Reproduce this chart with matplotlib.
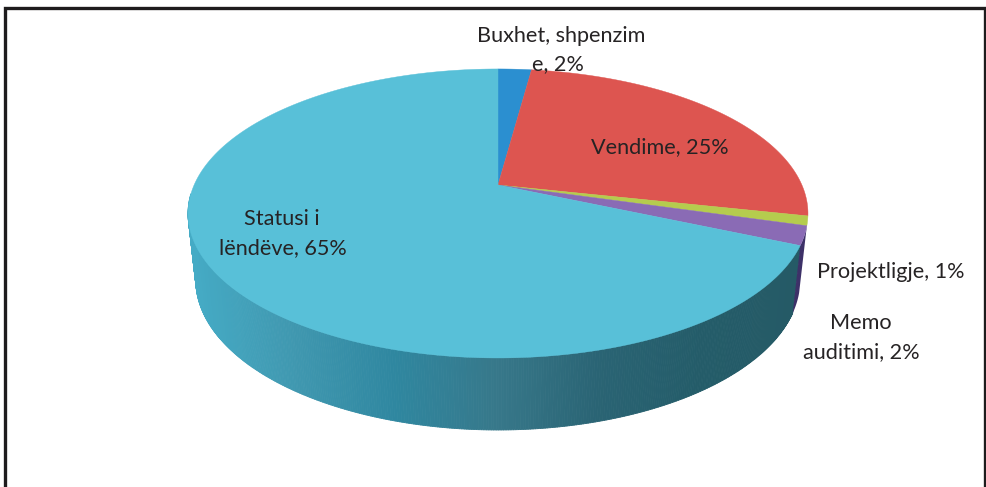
import matplotlib
matplotlib.use('Agg')
import matplotlib.pyplot as plt
import numpy as np
from matplotlib.collections import PolyCollection
from matplotlib.colors import LinearSegmentedColormap

# Slices, clockwise from twelve o'clock.
slice_names = ['Buxhet, shpenzime', 'Vendime', 'Projektligje', 'Memo auditimi', 'Statusi i lëndëve']
slice_values = [2, 25, 1, 2, 65]
slice_colors = ['#2b8fd0', '#dd5550', '#b5cc4e', '#8a6bb5', '#58c0d8']

label_texts = ['Buxhet, shpenzim', 'e, 2%', 'Vendime, 25%', 'Statusi i', 'lëndëve, 65%',
               'Projektligje, 1%', 'Memo', 'auditimi, 2%']
label_x = [561, 558, 660, 282, 283, 891, 861, 861]
label_y = [36, 64, 147, 219, 248, 272, 323, 352]

side_shades = ['#45abc5', '#4098b0', '#2f87a0', '#37788a', '#2a6474', '#245c69', '#255a66']

# Projection of the pie's disc.
centre_x, centre_y = 498, 185
scale_x, scale_y, tilt = 303.9, 138.9, 0.197
depth_centre, depth_scale, depth_shrink = 280, 1.038, 0.975


def rim(fraction):
    angle = 2 * np.pi * np.asarray(fraction)
    u, v = np.sin(angle), np.cos(angle)
    return (centre_x + scale_x * u / (1 + tilt * v),
            centre_y - scale_y * v / (1 + tilt * v))


def lower_rim(fraction):
    x, y = rim(fraction)
    return (centre_x + (x - centre_x) * depth_shrink,
            depth_centre + (y - 213.5) * depth_scale)


figure, axes = plt.subplots(figsize=(9.86, 4.87), dpi=100)
figure.subplots_adjust(0, 0, 1, 1)
axes.set_xlim(0, 986)
axes.set_ylim(487, 0)
axes.axis('off')

edges = np.cumsum([0] + slice_values) / sum(slice_values)

# Side wall, shaded left to right. Only the front part of the rim shows.
shade_map = LinearSegmentedColormap.from_list('side', side_shades)
steps = np.linspace(edges[4], 0.74, 400)
top_x, top_y = rim(steps)
low_x, low_y = lower_rim(steps)
quads, quad_colors = [], []
for i in range(len(steps) - 1):
    quads.append([(top_x[i], top_y[i]), (top_x[i + 1], top_y[i + 1]),
                  (low_x[i + 1], low_y[i + 1]), (low_x[i], low_y[i])])
    quad_colors.append(shade_map((top_x[i] - 188) / 620))
axes.add_collection(PolyCollection(quads, facecolors=quad_colors, edgecolors=quad_colors, linewidths=0.6))

# Thin dark edge of the purple slice's wall.
steps = np.linspace(edges[3], edges[4], 30)
top_x, top_y = rim(steps)
low_x, low_y = lower_rim(steps)
axes.fill(np.r_[top_x, low_x[::-1]], np.r_[top_y, low_y[::-1]], color='#3d3168', lw=0, zorder=1)

# Top faces.
for start, stop, color in zip(edges[:-1], edges[1:], slice_colors):
    x, y = rim(np.linspace(start, stop, 200))
    axes.fill(np.r_[centre_x, x], np.r_[centre_y, y], color=color, lw=0.3, zorder=3)

for text, x, y in zip(label_texts, label_x, label_y):
    axes.text(x, y, text, family='Lato', fontsize=15.6, color='#262324',
              ha='center', va='center', zorder=5)

# Frame cut off at the bottom of the page.
axes.plot([4.5, 4.5, 985, 985], [487, 7.5, 7.5, 487], color='#1e1c1d', lw=2.4,
          solid_joinstyle='miter', clip_on=False, zorder=6)

figure.savefig('out.png', dpi=100)
